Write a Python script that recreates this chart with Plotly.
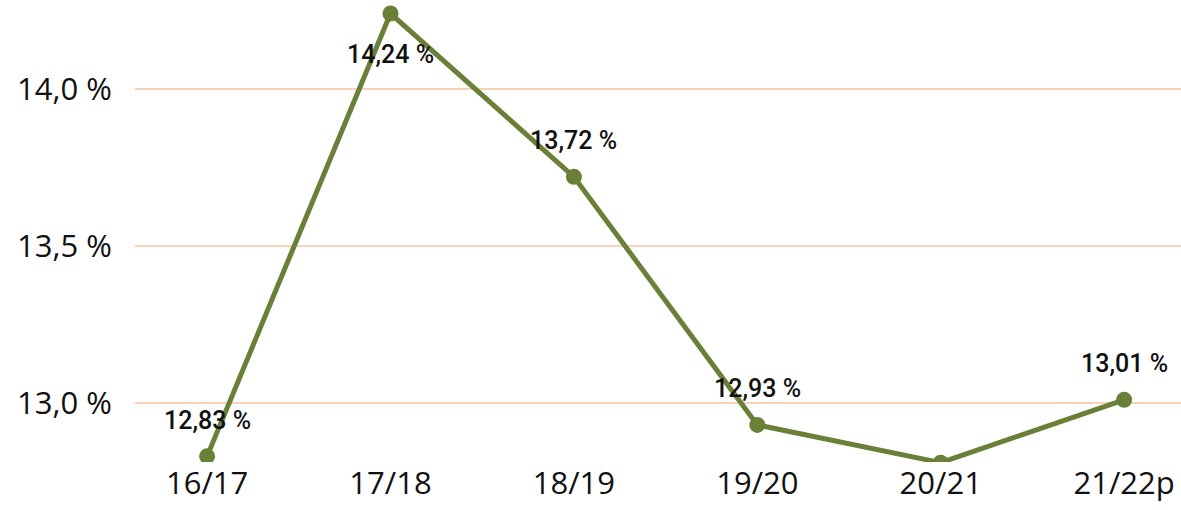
import plotly.graph_objects as go

categories = ["16/17", "17/18", "18/19", "19/20", "20/21", "21/22p"]
values = [12.83, 14.24, 13.72, 12.93, 12.81, 13.01]
label_above = [True, False, True, True, True, True]
y_ticks = [13.0, 13.5, 14.0]
y_tick_text = ["13,0 %", "13,5 %", "14,0 %"]

x = list(range(len(categories)))

fig = go.Figure()
fig.add_trace(go.Scatter(
    x=x, y=values, mode="lines+markers",
    line=dict(color="#6A7F37", width=5),
    marker=dict(color="#6A7F37", size=16),
    cliponaxis=True, hoverinfo="skip", showlegend=False,
))

for xi, v, above in zip(x, values, label_above):
    fig.add_annotation(
        x=xi, y=v, text=f"{v:.2f} %".replace(".", ","),
        showarrow=False, yshift=36 if above else -41,
        font=dict(family="Roboto", size=25, color="#111111", weight=500),
    )

fig.update_layout(
    width=1181, height=510,
    margin=dict(l=135, r=0, t=0, b=48, pad=0, autoexpand=False),
    paper_bgcolor="white", plot_bgcolor="white",
    xaxis=dict(
        range=[-0.393, 5.31], tickvals=x, ticktext=categories,
        showgrid=False, zeroline=False, showline=False, ticks="",
        automargin=False,
        tickfont=dict(family="Open Sans", size=31, color="#111111"),
    ),
    yaxis=dict(
        range=[12.812, 14.283], tickvals=y_ticks, ticktext=y_tick_text,
        showgrid=True, gridcolor="#F7D4B9", gridwidth=2,
        zeroline=False, showline=False, ticks="", ticklabelstandoff=22,
        automargin=False,
        tickfont=dict(family="Open Sans", size=31, color="#111111"),
    ),
)

fig.write_html(
    "out.html",
    config={"displayModeBar": False},
    post_script="document.body.style.margin='0';document.body.style.overflow='hidden';",
)
